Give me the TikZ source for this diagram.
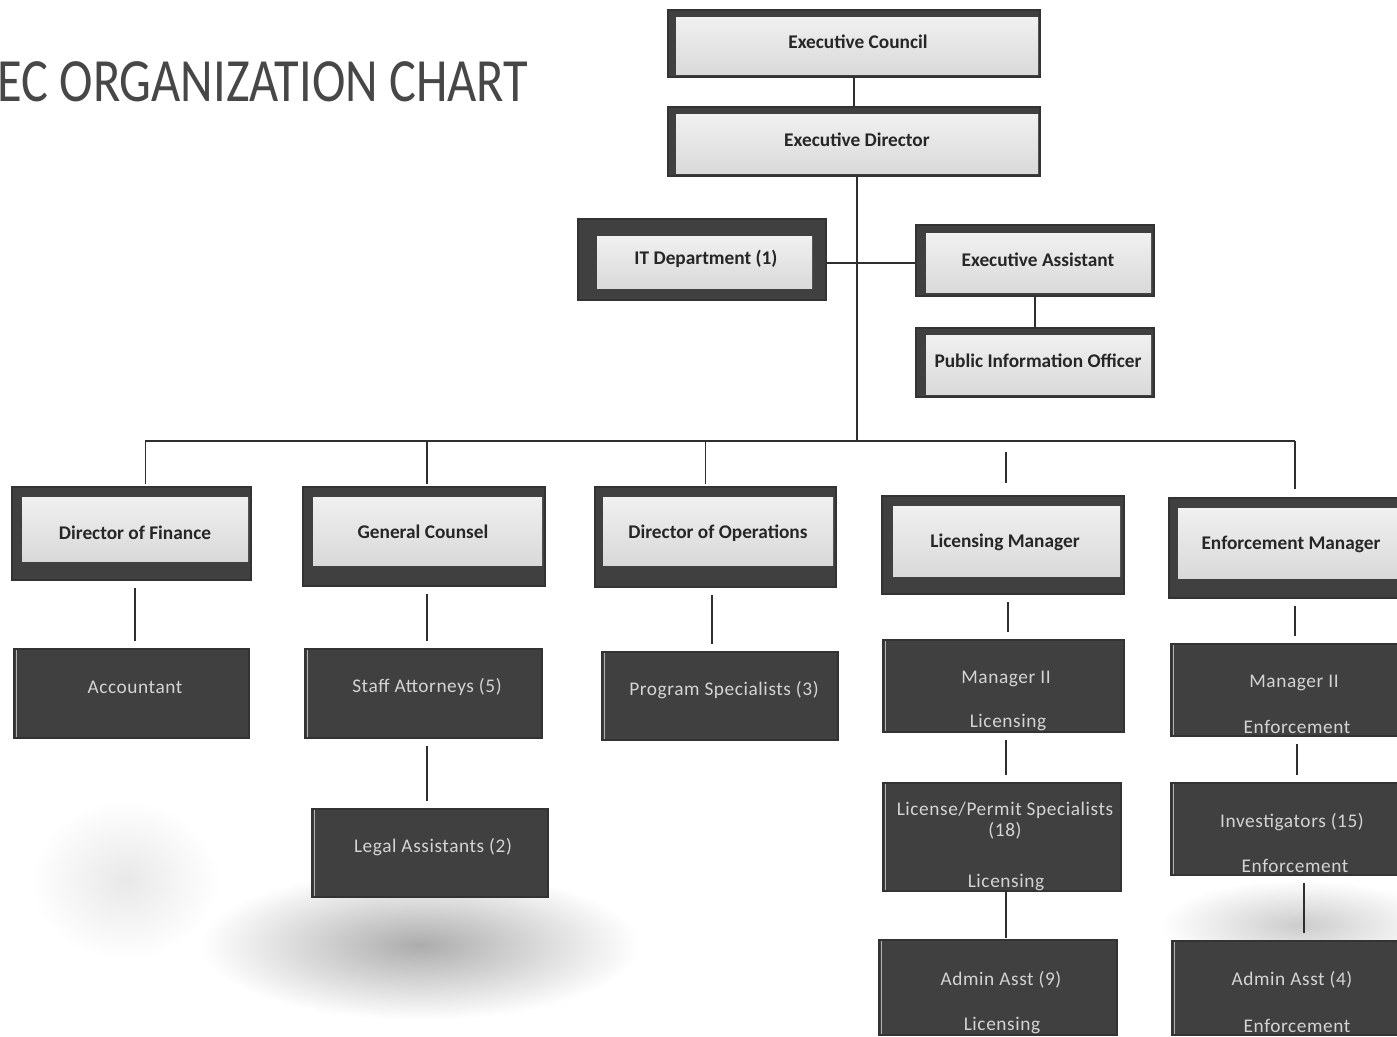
\documentclass[tikz,border=0pt]{standalone}
\usepackage{fontspec}
\setmainfont{Carlito}
\newfontfamily\titlefont[FakeStretch=0.82]{Carlito}
\newfontfamily\darkfont[LetterSpace=3]{Carlito}
\usetikzlibrary{fit}
\definecolor{boxdark}{HTML}{404040}
\definecolor{edgedark}{HTML}{333333}
\definecolor{facetop}{HTML}{F0F0F0}
\definecolor{facebot}{HTML}{D9D9D9}
\definecolor{darktext}{HTML}{D4D4D4}
\definecolor{linecol}{HTML}{2E2E2E}
\definecolor{titlecol}{HTML}{474747}
\tikzset{
  outerbox/.style={fill=boxdark, draw=edgedark, line width=0.8pt, inner sep=0pt, rectangle},
  facebox/.style={top color=facetop, bottom color=facebot, inner sep=0pt, rectangle},
  facelabel/.style={font=\fontsize{11}{13}\selectfont\bfseries, text=black!85, inner sep=0pt},
  darkbox/.style={fill=boxdark, draw=edgedark, line width=0.6pt, inner sep=0pt, rectangle,
    path picture={\draw[gray!60, line width=0.7pt]
      ([xshift=1.5pt]path picture bounding box.north west) --
      ([xshift=1.5pt]path picture bounding box.south west);}},
  darklabel/.style={font=\darkfont\fontsize{11}{12}\selectfont, text=darktext, inner sep=0pt, align=center},
  conn/.style={draw=linecol, line width=0.9pt},
  gap/.style={shorten <=0.15cm, shorten >=0.15cm},
  smudge/.style={inner color=#1, outer color=white},
}
\begin{document}
\begin{tikzpicture}[x=0.02cm, y=-0.02cm]
\clip (0,0) rectangle (1397,1037);
\fill[white] (0,0) rectangle (1397,1037);

% scan smudges
\shade[smudge=gray!65] (420,945) ellipse [x radius=220, y radius=75];
\shade[smudge=gray!18] (125,880) ellipse [x radius=95, y radius=80];
\shade[smudge=gray!40] (1300,925) ellipse [x radius=140, y radius=45];

% title
\node[anchor=west, font=\titlefont\fontsize{35}{40}\selectfont, text=titlecol, inner sep=0pt]
  (title) at (-3,82) {EC ORGANIZATION CHART};

% top light boxes
\node[outerbox, fit={(668,10)(1040,77)}] (ec) {};
\node[facebox, fit={(676,18)(1038,75)}] (ec-f) {};
\node[facelabel] (ec-t) at (858,42) {Executive Council};
\node[outerbox, fit={(668,107)(1040,176)}] (ed) {};
\node[facebox, fit={(676,115)(1038,174)}] (ed-f) {};
\node[facelabel] (ed-t) at (857,140) {Executive Director};
\node[outerbox, fit={(578,219)(826,300)}] (it) {};
\node[facebox, fit={(597,237)(812,289)}] (it-f) {};
\node[facelabel] (it-t) at (706,259) {IT Department (1)};
\node[outerbox, fit={(916,225)(1154,296)}] (ea) {};
\node[facebox, fit={(926,234)(1151,293)}] (ea-f) {};
\node[facelabel] (ea-t) at (1038,260) {Executive Assistant};
\node[outerbox, fit={(916,328)(1154,397)}] (pio) {};
\node[facebox, fit={(926,336)(1151,394)}] (pio-f) {};
\node[facelabel] (pio-t) at (1038,361) {Public Information Officer};

% second row light boxes
\node[outerbox, fit={(12,487)(251,580)}] (dof) {};
\node[facebox, fit={(22,497)(248,561)}] (dof-f) {};
\node[facelabel] (dof-t) at (135,533) {Director of Finance};
\node[outerbox, fit={(303,487)(545,586)}] (gc) {};
\node[facebox, fit={(313,497)(542,565)}] (gc-f) {};
\node[facelabel] (gc-t) at (423,532) {General Counsel};
\node[outerbox, fit={(595,487)(836,587)}] (doo) {};
\node[facebox, fit={(603,497)(833,565)}] (doo-f) {};
\node[facelabel] (doo-t) at (718,533) {Director of Operations};
\node[outerbox, fit={(882,496)(1124,594)}] (lm) {};
\node[facebox, fit={(893,506)(1120,576)}] (lm-f) {};
\node[facelabel] (lm-t) at (1005,542) {Licensing Manager};
\node[outerbox, fit={(1169,498)(1421,598)}] (em) {};
\node[facebox, fit={(1178,508)(1421,578)}] (em-f) {};
\node[facelabel] (em-t) at (1291,544) {Enforcement Manager};

% dark boxes
\node[darkbox, fit={(14,649)(249,738)}] (acc) {};
\node[darklabel] (acc-t) at (135,687) {Accountant};
\node[darkbox, fit={(305,649)(542,738)}] (sa) {};
\node[darklabel] (sa-t) at (427,687) {Staff Attorneys (5)};
\node[darkbox, fit={(602,652)(838,740)}] (ps) {};
\node[darklabel] (ps-t) at (724,690) {Program Specialists (3)};
\node[darkbox, fit={(883,640)(1124,732)}] (ml) {};
\node[darklabel] (ml-t) at (1006,679) {Manager II};
\node[darklabel] (ml-s) at (1008,723) {Licensing};
\node[darkbox, fit={(1171,644)(1421,736)}] (me) {};
\node[darklabel] (me-t) at (1294,683) {Manager II};
\node[darklabel] (me-s) at (1297,727) {Enforcement};
\node[darkbox, fit={(312,809)(548,897)}] (la) {};
\node[darklabel] (la-t) at (433,847) {Legal Assistants (2)};
\node[darkbox, fit={(883,783)(1121,891)}] (lps) {};
\node[darklabel] (lps-t) at (1005,821) {License/Permit Specialists\\(18)};
\node[darklabel] (lps-s) at (1006,883) {Licensing};
\node[darkbox, fit={(1171,783)(1421,875)}] (inv) {};
\node[darklabel] (inv-t) at (1292,822) {Investigators (15)};
\node[darklabel] (inv-s) at (1295,866) {Enforcement};
\node[darkbox, fit={(879,940)(1117,1035)}] (aa9) {};
\node[darklabel] (aa9-t) at (1001,980) {Admin Asst (9)};
\node[darklabel] (aa9-s) at (1002,1026) {Licensing};
\node[darkbox, fit={(1172,941)(1421,1035)}] (aa4) {};
\node[darklabel] (aa4-t) at (1292,980) {Admin Asst (4)};
\node[darklabel] (aa4-s) at (1297,1026) {Enforcement};

% connectors
\coordinate (bus) at (857,441);
\draw[conn] (ec) -- (ed);
\draw[conn] ([xshift=0.06cm]ed.south) -- ([xshift=0.06cm]ed.south |- bus);
\draw[conn] ([yshift=-0.07cm]it.east) -- ([yshift=-0.07cm]it.east -| ea.west);
\draw[conn] (ea) -- (pio);
\draw[conn] ([xshift=0.28cm]dof.north |- bus) -- (em.north |- bus);
\draw[conn, shorten >=0.04cm] ([xshift=0.28cm]dof.north |- bus) -- ([xshift=0.28cm]dof.north);
\draw[conn, shorten >=0.04cm] ([xshift=0.06cm]gc.north |- bus) -- ([xshift=0.06cm]gc.north);
\draw[conn, shorten >=0.04cm] ([xshift=-0.2cm]doo.north |- bus) -- ([xshift=-0.2cm]doo.north);
\draw[conn, shorten <=0.22cm, shorten >=0.25cm] ([xshift=0.06cm]lm.north |- bus) -- ([xshift=0.06cm]lm.north);
\draw[conn, shorten >=0.16cm] (em.north |- bus) -- (em.north);

\draw[conn, gap] ([xshift=0.07cm]dof.south) -- ([xshift=0.07cm]dof.south |- acc.north);
\draw[conn, gap] ([xshift=0.06cm]gc.south) -- ([xshift=0.06cm]gc.south |- sa.north);
\draw[conn, gap] ([xshift=0.07cm]sa.south) -- ([xshift=0.07cm]sa.south |- la.north);
\draw[conn, gap] ([xshift=-0.07cm]doo.south) -- ([xshift=-0.07cm]doo.south |- ps.north);
\draw[conn, gap] ([xshift=0.1cm]lm.south) -- ([xshift=0.1cm]lm.south |- ml.north);
\draw[conn, gap] ([xshift=0.05cm]ml.south) -- ([xshift=0.05cm]ml.south |- lps.north);
\draw[conn, shorten >=0.02cm] ([xshift=0.08cm]lps.south) -- ([xshift=0.08cm]lps.south |- aa9.north);
\draw[conn, gap] (em.south) -- (em.south |- me.north);
\draw[conn, gap] ([xshift=0.02cm]me.south) -- ([xshift=0.02cm]me.south |- inv.north);
\draw[conn, gap] ([xshift=0.16cm]inv.south) -- ([xshift=0.16cm]inv.south |- aa4.north);
\end{tikzpicture}
\end{document}
